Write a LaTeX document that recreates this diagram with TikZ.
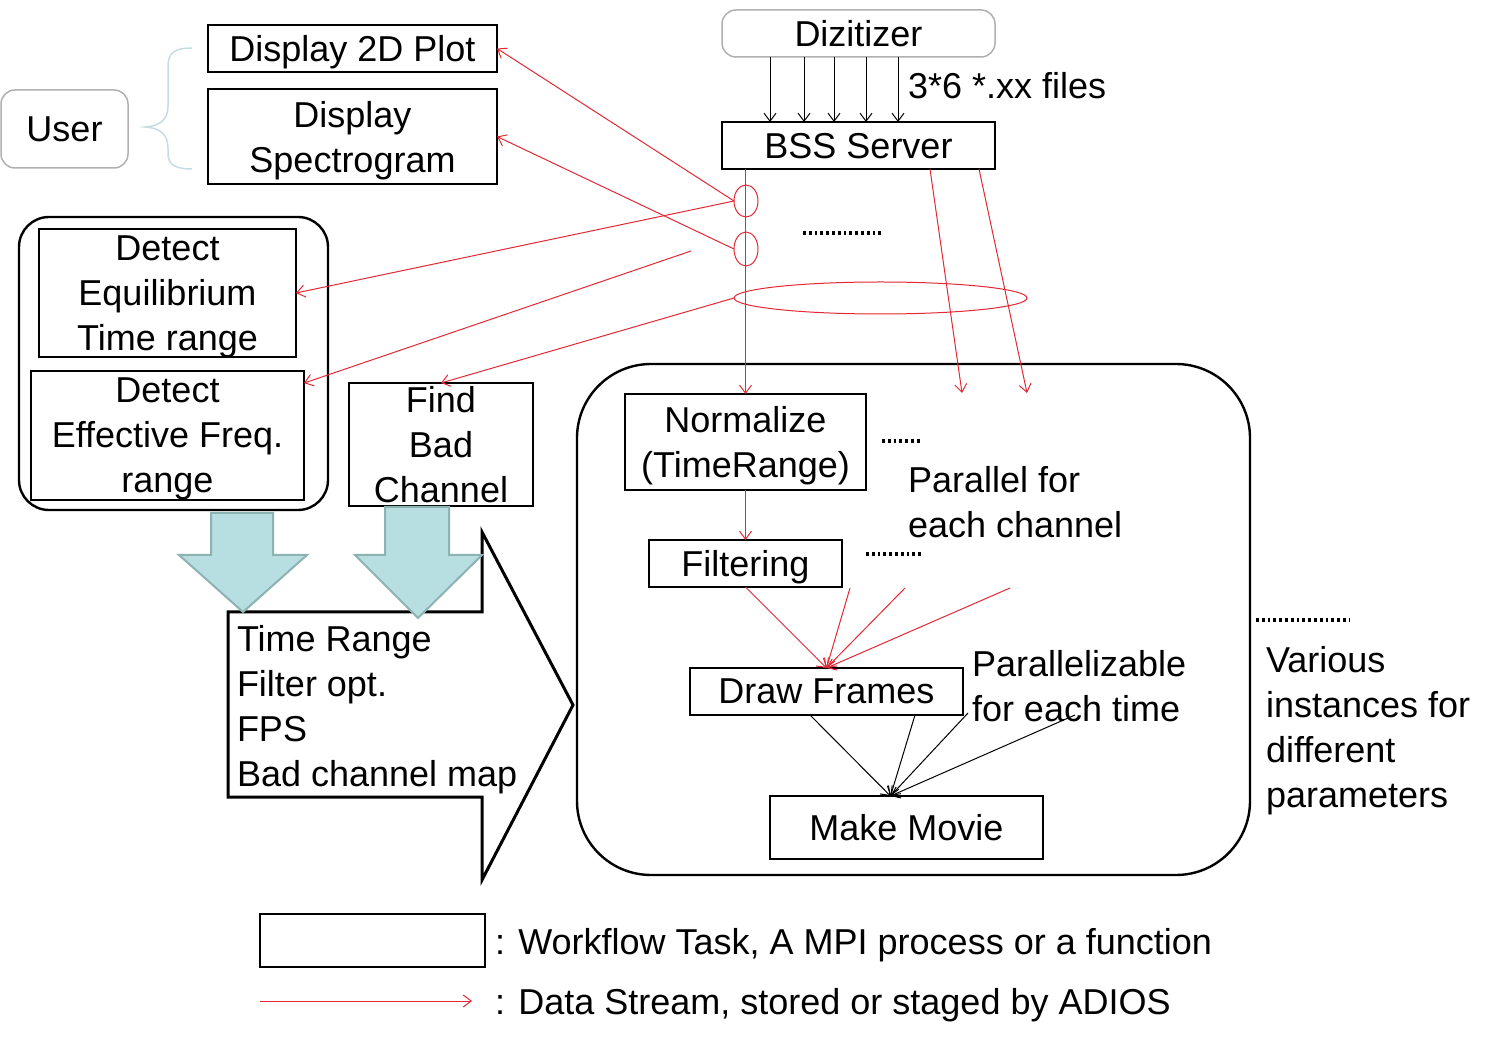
\documentclass[tikz,border=0pt]{standalone}
\usepackage{fontspec}
\setmainfont{Liberation Sans}
\usetikzlibrary{arrows.meta,shapes.geometric,calc}
\definecolor{dsred}{RGB}{228,40,52}
\definecolor{bracec}{RGB}{196,221,227}
\definecolor{usergray}{RGB}{176,176,176}
\definecolor{cyanfill}{RGB}{183,222,224}
\definecolor{cyanedge}{RGB}{140,178,178}
\newcommand\bigfnt{\fontsize{18pt}{22.5pt}\selectfont}
\tikzset{
  box/.style={draw, line width=0.75pt, inner sep=0pt, outer sep=0pt, align=center, font=\bigfnt, text depth=0pt},
  rbox/.style={box, draw=usergray, rounded corners=7pt},
  lbl/.style={inner sep=0pt, outer sep=0pt, align=left, anchor=west, font=\bigfnt, text depth=0pt},
  redell/.style={ellipse, draw=dsred, line width=0.5pt, inner sep=0pt, outer sep=0pt},
  flow/.style={draw=dsred, line width=0.5pt, -{Straight Barb[length=4pt,width=6pt]}},
  blkflow/.style={draw=black, line width=0.5pt, -{Straight Barb[length=4pt,width=6pt]}},
  dotline/.style={line width=1.6pt, dash pattern=on 1.4pt off 1.5pt},
  cyanarrow/.style={fill=cyanfill, draw=cyanedge, line width=1pt},
}
\begin{document}
\begin{tikzpicture}[x=0.5pt,y=-0.5pt]
\useasboundingbox (0,0) rectangle (1510,1047);

% ---- top left: user and displays
\node[rbox, minimum width=63.5pt, minimum height=39pt] (user) at (64.5,129) {User};
\draw[bracec, line width=0.75pt] (192,48) .. controls (176,48) and (168,52) .. (168,66)
  -- (168,106) .. controls (168,120) and (160,126) .. (145,127)
  .. controls (160,128) and (168,134) .. (168,148)
  -- (168,154) .. controls (168,165) and (176,169) .. (192,169);
\node[box, minimum width=144.5pt, minimum height=23.5pt] (d2d) at (352.5,48.5) {Display 2D Plot};
\node[box, minimum width=144.5pt, minimum height=47.5pt] (dspec) at (352.5,136.5) {Display\\Spectrogram};

% ---- digitizer and server
\node[rbox, minimum width=136.5pt, minimum height=23.5pt] (dig) at (858.5,33.5) {Dizitizer};
\node[box, minimum width=136.5pt, minimum height=23.5pt] (bss) at (858.5,145.5) {BSS Server};
\foreach \xx in {770,804,834,866,898}
  \draw[blkflow] (dig.south -| \xx,0) -- (bss.north -| \xx,0);
\node[lbl] (files) at (908,85) {3*6 *.xx files};

% ---- red stream ellipses
\node[redell, minimum width=12pt, minimum height=16pt] (e1) at (746,201) {};
\node[redell, minimum width=12pt, minimum height=17pt] (e2) at (746,249) {};
\node[redell, minimum width=146.5pt, minimum height=16pt] (e3) at (880.5,298) {};
\draw[dotline] (803,233) -- (883,233);

% ---- left group
\draw[line width=1.2pt, rounded corners=15pt] (19,217) rectangle (328,510);
\node[box, minimum width=128.5pt, minimum height=64pt] (eq) at (167.5,293) {Detect\\Equilibrium\\Time range};
\node[box, minimum width=136.5pt, minimum height=64.5pt] (eff) at (167.5,435.5) {Detect\\Effective Freq.\\range};
\node[box, minimum width=92pt, minimum height=61.5pt] (bad) at (441,444.5) {Find\\Bad\\Channel};

% ---- big block arrow with parameters
\draw[line width=1.5pt, fill=white, line join=miter] (228,612) -- (482,612) -- (482,532) -- (573,705)
  -- (482,880) -- (482,797) -- (228,797) -- cycle;
\draw[cyanarrow] (211,513) -- (273,513) -- (273,555) -- (307,555) -- (243,612) -- (179,555) -- (211,555) -- cycle;
\draw[cyanarrow] (385,507) -- (449,507) -- (449,555) -- (482,555) -- (418,618) -- (355,555) -- (385,555) -- cycle;
\node[lbl] (params) at (237,706) {Time Range\\Filter opt.\\FPS\\Bad channel map};

% ---- big process container
\draw[line width=1.2pt, rounded corners=37pt] (577,364) rectangle (1250,875);
\node[box, minimum width=120.5pt, minimum height=48pt] (norm) at (745.5,442) {Normalize\\(TimeRange)};
\node[box, minimum width=96.5pt, minimum height=23.5pt] (filt) at (745.5,563.5) {Filtering};
\node[box, minimum width=136.5pt, minimum height=23.5pt] (draw) at (826.5,691.5) {Draw Frames};
\node[box, minimum width=136.5pt, minimum height=31.5pt] (movie) at (906.5,827.5) {Make Movie};
\draw[dotline] (882,441) -- (922,441);
\draw[dotline] (866,554) -- (922,554);
\node[lbl] (par1) at (908,502) {Parallel for\\each channel};
\node[lbl] (par2) at (972,686) {Parallelizable\\for each time};
\draw[dotline] (1256,620) -- (1350,620);
\node[lbl] (var) at (1266,726.5) {Various\\instances for\\different\\parameters};

% ---- red data streams
\draw[flow] (e1.west) -- (d2d.east);
\draw[flow] (e2.west) -- (dspec.east);
\draw[flow] (e1.west) -- (eq.east);
\coordinate (fe) at (691,251);
\draw[flow] (fe) -- (eff.21.8);
\draw[flow] (e3.west) -- (bad.north);
\draw[flow] (norm.north |- bss.south) -- (norm.north);
\coordinate (s1) at (962,393);
\coordinate (s2) at (1027,393);
\draw[flow] ($(bss.south west)+(208,0)$) -- (s1);
\draw[flow] ($(bss.south west)+(257,0)$) -- (s2);
\draw[flow] (norm.south) -- (filt.north);
\coordinate (f1) at (850,588);
\coordinate (f2) at (905,588);
\coordinate (f3) at (1010,588);
\draw[flow] (filt.south) -- (draw.north);
\draw[flow] (f1) -- (draw.north);
\draw[flow] (f2) -- (draw.north);
\draw[flow] (f3) -- (draw.north);

% ---- black frames to movie
\coordinate (mm) at ($(movie.north)+(-16,0)$);
\coordinate (g1) at (968,713);
\coordinate (g2) at (1075,715);
\draw[blkflow] ($(draw.south west)+(120,0)$) -- (mm);
\draw[blkflow] ($(draw.south west)+(225,0)$) -- (mm);
\draw[blkflow] (g1) -- (mm);
\draw[blkflow] (g2) -- (mm);

% ---- legend
\node[box, minimum width=112.5pt, minimum height=26.5pt] (legbox) at (372.5,940.5) {};
\node[lbl] (legt1) at (495,941) {: Workflow Task, A MPI process or a function};
\coordinate (la) at (260,1001);
\coordinate (lb) at (472,1001);
\draw[flow] (la) -- (lb);
\node[lbl] (legt2) at (495,1001) {: Data Stream, stored or staged by ADIOS};
\end{tikzpicture}
\end{document}
